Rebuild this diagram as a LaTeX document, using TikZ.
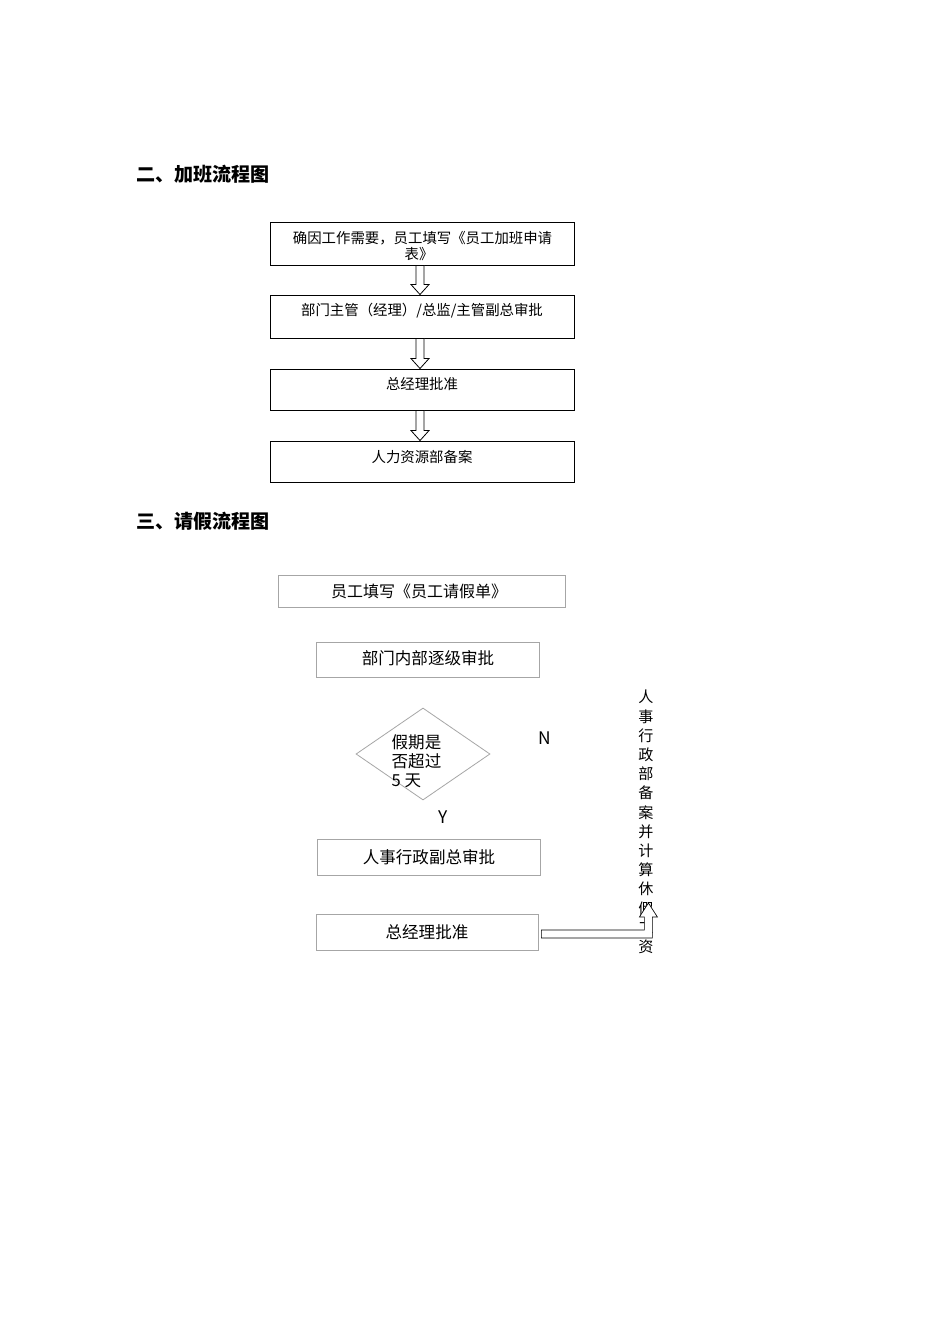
\documentclass[tikz,border=0pt]{standalone}
\usepackage{fontspec}
\setmainfont{Noto Sans CJK SC}
\usetikzlibrary{calc,shapes.geometric}
\definecolor{lgray}{HTML}{A6A6A6}
\newcommand\hollowdown[2]{%
  \draw[harr] ($(#1.south)+(-6,0)$) -- ($(#1.south)+(2,0)$) -- ($(#2.north)+(2,-10)$)
    -- ($(#2.north)+(7,-10)$) -- ($(#2.north)+(-2,0)$) -- ($(#2.north)+(-11,-10)$)
    -- ($(#2.north)+(-6,-10)$) -- cycle;}
\begin{document}
\begin{tikzpicture}[x=0.75pt,y=-0.75pt,
  tbox/.style={draw=black,line width=0.7pt,minimum width=228pt,inner sep=0pt},
  gbox/.style={draw=lgray,line width=0.6pt,inner sep=0pt},
  harr/.style={draw=black,fill=white,line width=0.6pt,line join=miter},
  t1/.style={font=\fontsize{10.8pt}{13pt}\selectfont,inner sep=0pt},
  t2/.style={font=\fontsize{12.4pt}{14.25pt}\selectfont,inner sep=0pt},
  lett/.style={font=\fontsize{13pt}{15pt}\selectfont,inner sep=0pt},
  head/.style={font=\bfseries\fontsize{14.3pt}{17pt}\selectfont,inner sep=0pt,anchor=west}]
\useasboundingbox (0,0) rectangle (950,1344);
\fill[white] (0,0) rectangle (950,1344);

% section 2
\node[head] (h2) at (136,174) {二、加班流程图};
\node[tbox,minimum height=32.25pt] (b1) at (422,243.5) {};
\node[t1] (b1t) at (422.5,238) {确因工作需要，员工填写《员工加班申请};
\node[t1] (b1u) at (419,254) {表》};
\node[tbox,minimum height=32.25pt] (b2) at (422,316.5) {};
\node[t1] (b2t) at (422,311) {部门主管（经理）/总监/主管副总审批};
\node[tbox,minimum height=30.75pt] (b3) at (422,389.5) {};
\node[t1] (b3t) at (422,384) {总经理批准};
\node[tbox,minimum height=30.75pt] (b4) at (422,461.5) {};
\node[t1] (b4t) at (422,457) {人力资源部备案};
\hollowdown{b1}{b2}
\hollowdown{b2}{b3}
\hollowdown{b3}{b4}

% section 3
\node[head] (h3) at (136,521) {三、请假流程图};
\node[gbox,minimum width=215.25pt,minimum height=24pt] (b5) at (421.5,591) {};
\node[t2,font=\fontsize{12pt}{14pt}\selectfont] (b5t) at (419,591) {员工填写《员工请假单》};
\node[gbox,minimum width=167.25pt,minimum height=26.25pt] (b6) at (427.5,659.5) {};
\node[t2] (b6t) at (428,658) {部门内部逐级审批};
\node[gbox,diamond,minimum width=100.5pt,minimum height=69pt] (d) at (423,754) {};
\node[t2,align=left] (dt) at (416.5,761) {假期是\\否超过\\5 天};
\node[lett] (n) at (545,738) {N};
\node[lett] (y) at (443,817) {Y};
\node[gbox,minimum width=167.25pt,minimum height=27pt] (b7) at (428.5,857) {};
\node[t2] (b7t) at (429,857) {人事行政副总审批};
\node[gbox,minimum width=166.5pt,minimum height=27pt] (b8) at (427,932) {};
\node[t2] (b8t) at (427,932) {总经理批准};
\node[font=\fontsize{11.3pt}{14.4pt}\selectfont,align=center,inner sep=0pt] (rt) at (646,822)
  {人\\事\\行\\政\\部\\备\\案\\并\\计\\算\\休\\假\\工\\资};
\draw[harr,line width=0.5pt] ($(b8.east)+(3,-2)$) -- ($(b8.east)+(106,-2)$) -- ($(b8.east)+(106,-15)$)
  -- ($(b8.east)+(101,-15)$) -- ($(b8.east)+(110,-29)$) -- ($(b8.east)+(119,-15)$)
  -- ($(b8.east)+(114,-15)$) -- ($(b8.east)+(114,6)$) -- ($(b8.east)+(3,6)$) -- cycle;
\end{tikzpicture}
\end{document}
